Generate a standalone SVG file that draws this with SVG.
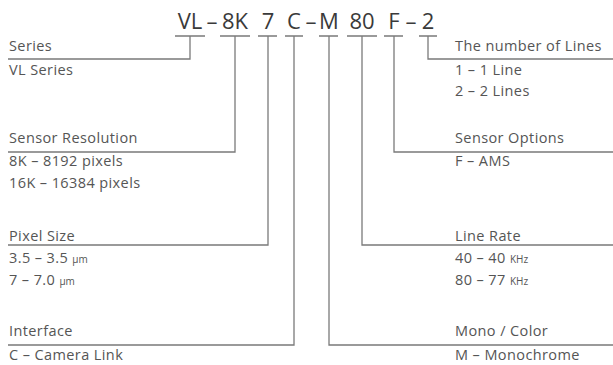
<svg xmlns="http://www.w3.org/2000/svg" width="613" height="365" viewBox="0 0 613 365">
<style>
.t{font-family:"Open Sans","Liberation Sans",Arial,sans-serif;font-size:14.5px;letter-spacing:0.4px;fill:#555}
.sm{font-size:10px;letter-spacing:0}
.h{font-family:"Open Sans","Liberation Sans",Arial,sans-serif;font-size:22px;fill:#3a3a3a;text-anchor:middle}
.ln{stroke:#7a7a7a;stroke-width:1.3;fill:none}
</style>
<rect width="613" height="365" fill="#fff"/>
<g id="code">
<text class="h" y="29"><tspan x="190">VL</tspan><tspan x="212">–</tspan><tspan x="235">8K</tspan><tspan x="268">7</tspan><tspan x="294">C</tspan><tspan x="311">–</tspan><tspan x="329">M</tspan><tspan x="362">80</tspan><tspan x="394">F</tspan><tspan x="411">–</tspan><tspan x="428">2</tspan></text>
</g>
<g id="connectors" class="ln">
<path d="M175 36H205M220 36H250M258 36H277M285 36H303M319 36H338M347 36H377M384 36H403M419 36H437"/>
<path d="M190 36V59H8"/>
<path d="M235 36V152H8"/>
<path d="M268 36V245H8"/>
<path d="M294 36V345H8"/>
<path d="M329 36V345H613"/>
<path d="M362 36V245H613"/>
<path d="M394 36V152H613"/>
<path d="M428 36V59H613"/>
</g>
<g id="series">
<text class="t" x="9" y="51">Series</text>
<text class="t" x="9" y="75">VL Series</text>
</g>
<g id="resolution">
<text class="t" x="9" y="143">Sensor Resolution</text>
<text class="t" x="9" y="166">8K – 8192 pixels</text>
<text class="t" x="9" y="188">16K – 16384 pixels</text>
</g>
<g id="pixel">
<text class="t" x="9" y="241">Pixel Size</text>
<text class="t" x="9" y="263">3.5 – 3.5 <tspan class="sm">μm</tspan></text>
<text class="t" x="9" y="285">7 – 7.0 <tspan class="sm">μm</tspan></text>
</g>
<g id="interface">
<text class="t" x="9" y="336">Interface</text>
<text class="t" x="9" y="360">C – Camera Link</text>
</g>
<g id="lines">
<text class="t" x="455" y="51">The number of Lines</text>
<text class="t" x="455" y="75">1 – 1 Line</text>
<text class="t" x="455" y="96">2 – 2 Lines</text>
</g>
<g id="options">
<text class="t" x="455" y="143">Sensor Options</text>
<text class="t" x="455" y="166">F – AMS</text>
</g>
<g id="rate">
<text class="t" x="455" y="241">Line Rate</text>
<text class="t" x="455" y="263">40 – 40 <tspan class="sm">KHz</tspan></text>
<text class="t" x="455" y="285">80 – 77 <tspan class="sm">KHz</tspan></text>
</g>
<g id="mono">
<text class="t" x="455" y="336">Mono / Color</text>
<text class="t" x="455" y="360">M – Monochrome</text>
</g>
</svg>
